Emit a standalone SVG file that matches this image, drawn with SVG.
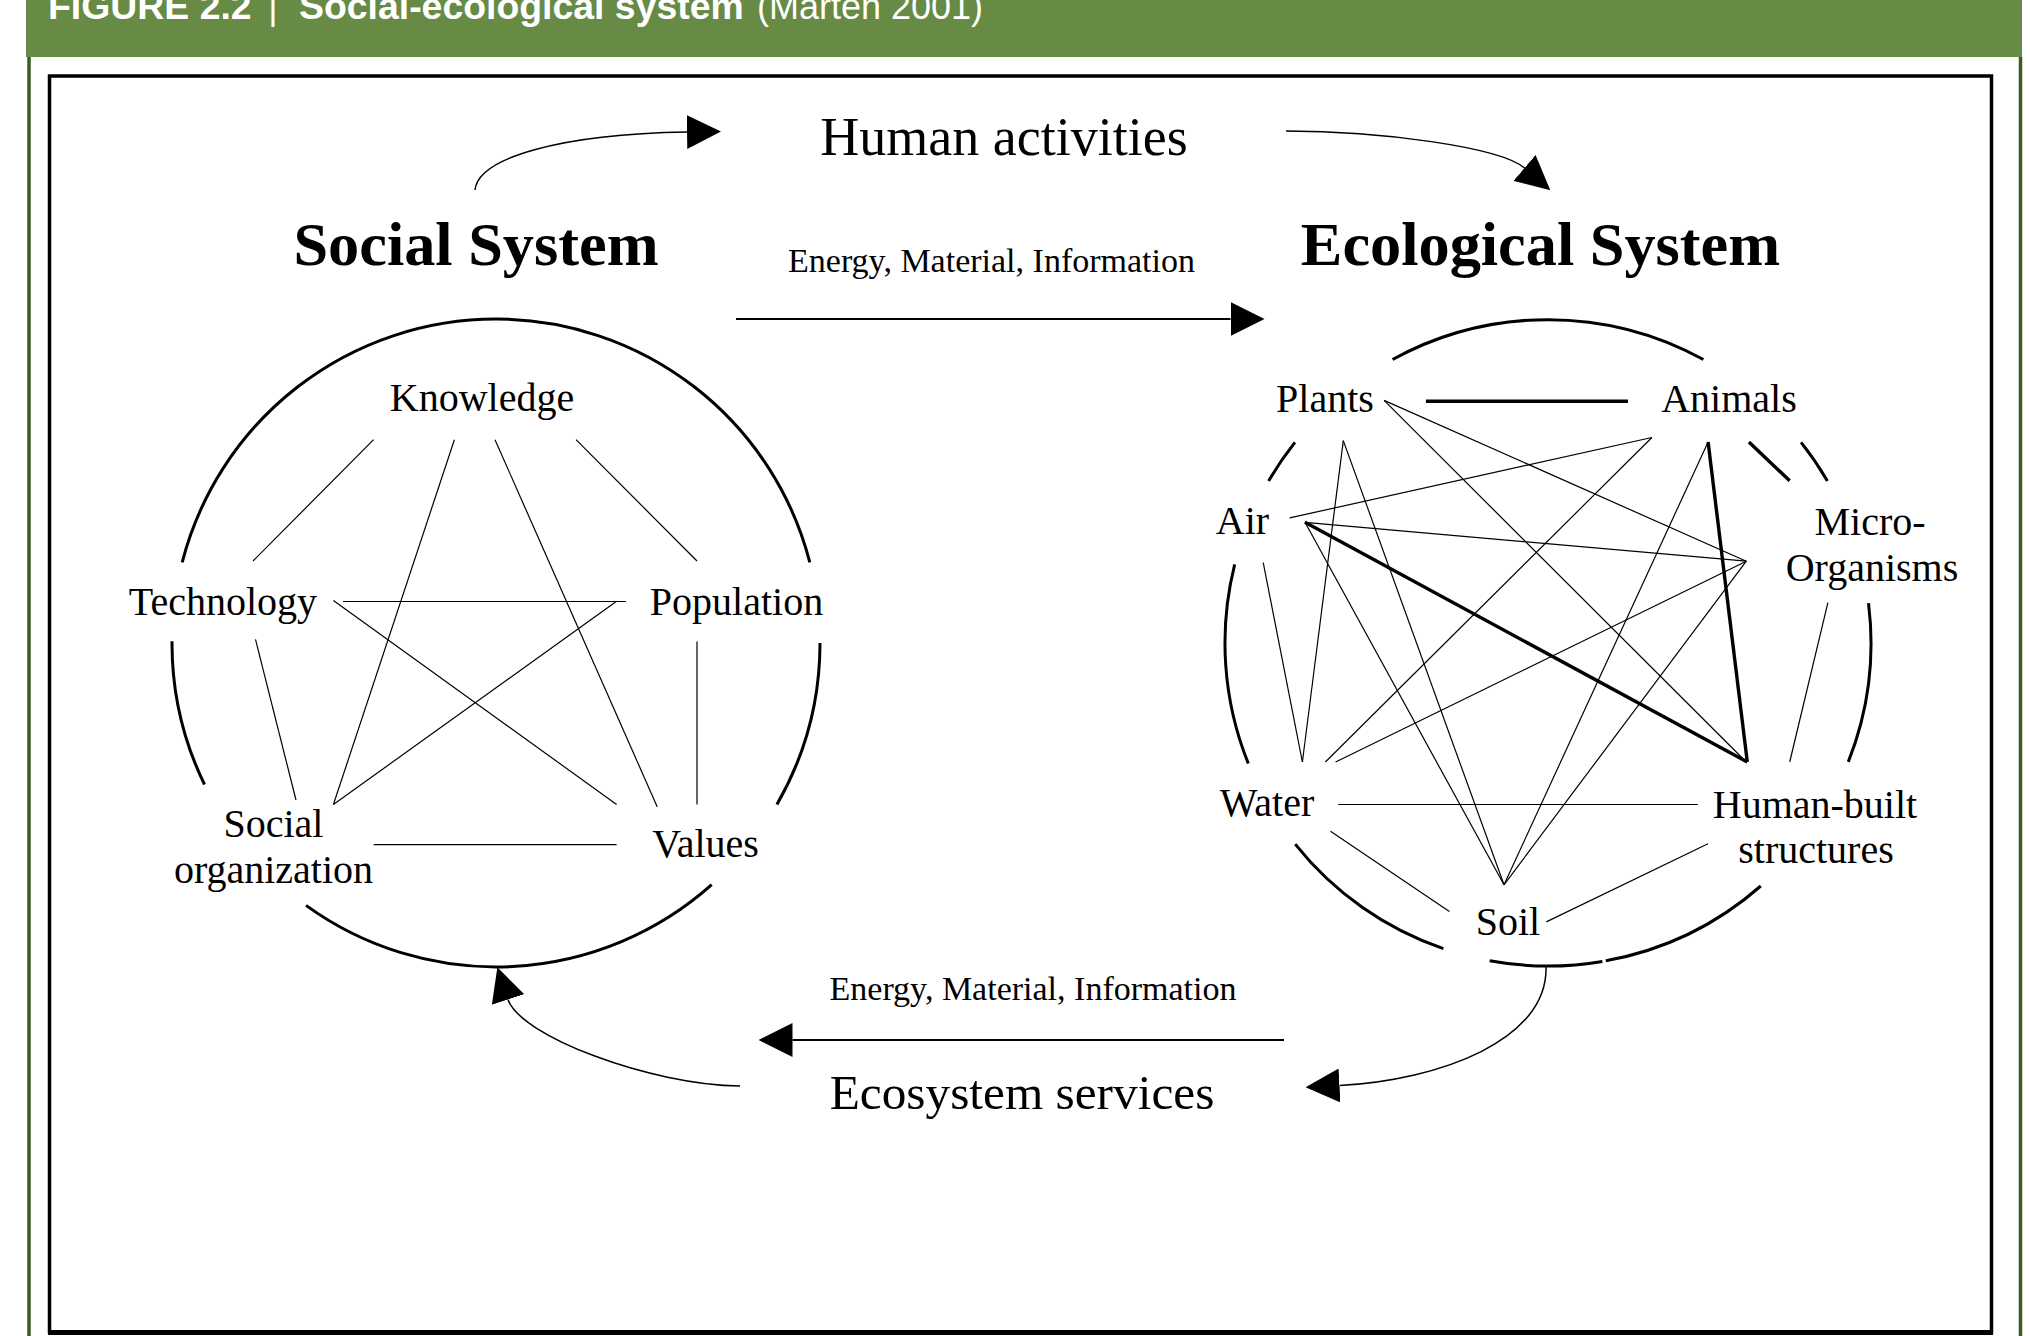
<svg xmlns="http://www.w3.org/2000/svg" width="2030" height="1336" viewBox="0 0 2030 1336">
<style>
.hd{font-family:"Liberation Sans",Arial,Helvetica,sans-serif;fill:#fff;font-size:36px}
.b{font-weight:bold;font-size:37.4px}
.t{font-family:"Liberation Serif","Times New Roman",Times,serif;fill:#000}
.lbl{font-size:40px;text-anchor:middle}
.ttl{font-size:62.3px;font-weight:bold;text-anchor:middle}
.flow{font-size:34px;text-anchor:middle}
.big{font-size:54px;text-anchor:middle}
.ring{fill:none;stroke:#000;stroke-width:3}
.thin{stroke:#000;stroke-width:1.2;fill:none}
.thick{stroke:#000;stroke-width:3.4;fill:none}
.arr{fill:none;stroke:#000;stroke-width:1.5;marker-end:url(#ah)}
.arrs{fill:none;stroke:#000;stroke-width:1.8;marker-end:url(#ah)}
</style>
<defs>
<marker id="ah" viewBox="0 0 34 34" markerWidth="34" markerHeight="34" refX="0" refY="17" orient="auto" markerUnits="userSpaceOnUse">
<path d="M0,0 L34,17 L0,34 Z" fill="#000"/>
</marker>
</defs>
<rect width="2030" height="1336" fill="#fff"/>
<g id="header">
<rect x="26" y="0" width="1996" height="57" fill="#678a45"/>
<line x1="29" y1="57" x2="29" y2="1336" stroke="#3e5a22" stroke-width="3.5"/>
<line x1="2020.5" y1="57" x2="2020.5" y2="1336" stroke="#3e5a22" stroke-width="3.5"/>
<text class="hd b" x="48" y="19">FIGURE 2.2</text>
<text class="hd" x="273" y="19" text-anchor="middle">|</text>
<text class="hd b" x="299" y="19">Social-ecological system</text>
<text class="hd" x="757" y="19">(Marten 2001)</text>
</g>
<g id="frame">
<rect x="49.5" y="76" width="1942" height="1256" fill="none" stroke="#000" stroke-width="3.5"/>
<line x1="48" y1="1332.5" x2="1993" y2="1332.5" stroke="#000" stroke-width="5"/>
</g>
<g id="social-system-title"><text class="t ttl" x="476" y="265">Social System</text></g>
<g id="ecological-system-title"><text class="t ttl" x="1540.5" y="265">Ecological System</text></g>
<g id="human-activities"><text class="t big" x="1004" y="155">Human activities</text></g>
<g id="ecosystem-services"><text class="t big" x="1022" y="1109" style="font-size:49.3px">Ecosystem services</text></g>
<g id="flow-top"><text class="t flow" x="991.5" y="272">Energy, Material, Information</text></g>
<g id="flow-bottom"><text class="t flow" x="1033" y="1000">Energy, Material, Information</text></g>
<g id="social-ring">
<path class="ring" d="M182.2,562.4 A324,324 0 0 1 809.8,562.4"/>
<path class="ring" d="M820,643 A324,324 0 0 1 776.9,804.5"/>
<path class="ring" d="M711.7,884.7 A324,324 0 0 1 306,905.4"/>
<path class="ring" d="M204.5,784.5 A324,324 0 0 1 172,641.3"/>
</g>
<g id="eco-ring">
<path class="ring" d="M1392.6,359.5 A323,323 0 0 1 1703.4,359.5"/>
<path class="ring" d="M1268.6,481 A323,323 0 0 1 1294.9,442.4"/>
<path class="ring" d="M1801.1,442.4 A323,323 0 0 1 1827.4,481"/>
<path class="ring" d="M1248.3,763.5 A323,323 0 0 1 1234.7,564.3"/>
<path class="ring" d="M1868.5,603.1 A323,323 0 0 1 1848.3,761.9"/>
<path class="ring" d="M1760.8,886 A323,323 0 0 1 1605.8,960.8"/>
<path class="ring" d="M1602.4,961.4 A323,323 0 0 1 1489.7,960.7"/>
<path class="ring" d="M1443.4,948.6 A323,323 0 0 1 1295.2,844.1"/>
</g>
<g id="knowledge"><text class="t lbl" x="482" y="411">Knowledge</text></g>
<g id="technology"><text class="t lbl" x="223" y="615">Technology</text></g>
<g id="population"><text class="t lbl" x="736.5" y="615">Population</text></g>
<g id="social-organization"><text class="t lbl" x="273.5" y="837">Social</text><text class="t lbl" x="273.5" y="882.5">organization</text></g>
<g id="values"><text class="t lbl" x="705.5" y="857">Values</text></g>
<g id="plants"><text class="t lbl" x="1325" y="411.5">Plants</text></g>
<g id="animals"><text class="t lbl" x="1729" y="411.5">Animals</text></g>
<g id="air"><text class="t lbl" x="1242.5" y="533.5">Air</text></g>
<g id="micro-organisms"><text class="t lbl" x="1870" y="534.5">Micro-</text><text class="t lbl" x="1872" y="581">Organisms</text></g>
<g id="water"><text class="t lbl" x="1267" y="815.5">Water</text></g>
<g id="human-built-structures"><text class="t lbl" x="1815" y="817.5">Human-built</text><text class="t lbl" x="1816" y="863">structures</text></g>
<g id="soil"><text class="t lbl" x="1508" y="935">Soil</text></g>
<g id="connectors">
<line class="thin" x1="373.6" y1="439.7" x2="253" y2="561"/>
<line class="thin" x1="576" y1="439.7" x2="697" y2="561"/>
<line class="thin" x1="454.4" y1="439.7" x2="333.4" y2="804.5"/>
<line class="thin" x1="495" y1="439.7" x2="657.2" y2="806.7"/>
<line class="thin" x1="343" y1="601.5" x2="626" y2="601.5"/>
<line class="thin" x1="333.4" y1="600.4" x2="616.6" y2="804.5"/>
<line class="thin" x1="616.6" y1="601.3" x2="333.4" y2="804.5"/>
<line class="thin" x1="255.5" y1="639.3" x2="296" y2="800"/>
<line class="thin" x1="697" y1="641.5" x2="697" y2="804.5"/>
<line class="thin" x1="373.6" y1="844.6" x2="616.6" y2="844.6"/>
<line class="thick" x1="1425.9" y1="401.3" x2="1628" y2="401.3"/>
<line class="thick" x1="1748.9" y1="442" x2="1789.7" y2="480.8"/>
<line class="thick" x1="1305" y1="522.3" x2="1747.3" y2="762"/>
<line class="thick" x1="1708.1" y1="442" x2="1747.3" y2="762"/>
<line class="thin" x1="1384.1" y1="400.4" x2="1746.3" y2="561.2"/>
<line class="thin" x1="1384.1" y1="400.4" x2="1746.3" y2="762"/>
<line class="thin" x1="1343.3" y1="440.6" x2="1302.4" y2="762"/>
<line class="thin" x1="1343.3" y1="440.6" x2="1504" y2="884.8"/>
<line class="thin" x1="1651.9" y1="437.5" x2="1289.7" y2="517.9"/>
<line class="thin" x1="1651.9" y1="437.5" x2="1325.4" y2="762"/>
<line class="thin" x1="1708.1" y1="442" x2="1504" y2="884.8"/>
<line class="thin" x1="1305" y1="522.3" x2="1746.3" y2="561.2"/>
<line class="thin" x1="1305" y1="522.3" x2="1504" y2="884.8"/>
<line class="thin" x1="1263.2" y1="562.5" x2="1302.4" y2="762"/>
<line class="thin" x1="1746.3" y1="561.2" x2="1335.6" y2="762"/>
<line class="thin" x1="1746.3" y1="561.2" x2="1504" y2="884.8"/>
<line class="thin" x1="1827.9" y1="602.7" x2="1789.7" y2="762"/>
<line class="thin" x1="1338.2" y1="804.5" x2="1697.9" y2="804.5"/>
<line class="thin" x1="1330.5" y1="831.3" x2="1449.4" y2="911.6"/>
<line class="thin" x1="1708" y1="843.8" x2="1546.3" y2="921.9"/>
<path class="arr" d="M475,190 C478,158 560,134 687,132"/>
<path class="arr" d="M1286,131 C1380,131 1500,147 1524.5,168"/>
<path class="arrs" d="M736,319 L1230.5,319"/>
<path class="arrs" d="M1284,1040 L792.5,1040"/>
<path class="arr" d="M740,1086 C650,1085 520,1036 508,999.5"/>
<path class="arr" d="M1546,967 C1548,1040 1440,1080 1339.5,1085.5"/>
</g>
</svg>
